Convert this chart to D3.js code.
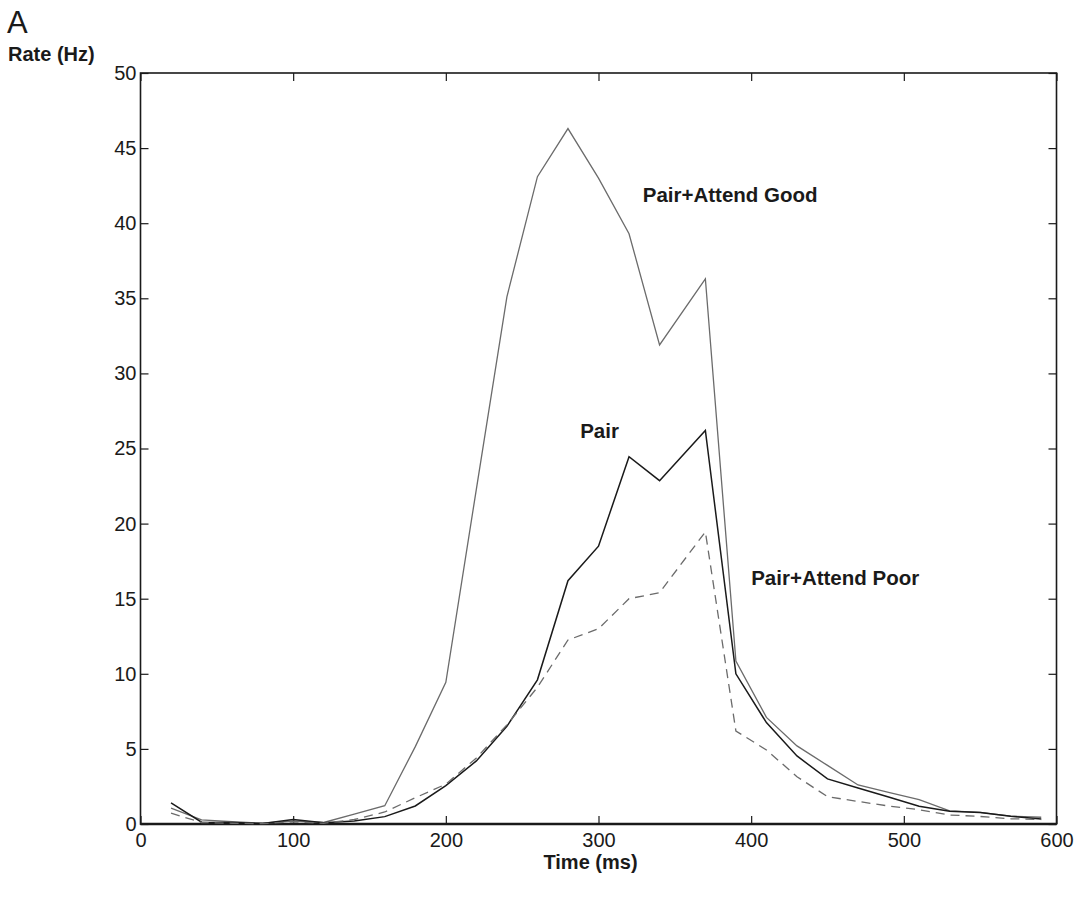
<!DOCTYPE html>
<html>
<head>
<meta charset="utf-8">
<script src="https://cdn.jsdelivr.net/npm/d3@7/dist/d3.min.js"></script>
<style>
  html, body { margin: 0; padding: 0; background: #fff; }
  svg { display: block; font-family: "Liberation Sans", Arial, Helvetica, sans-serif; }
</style>
</head>
<body>
<svg id="chart" width="1083" height="906"></svg>
<script>
// Time bins (ms)
const times = [20, 40, 60, 80, 100, 120, 140, 160, 180, 200, 220, 240, 260, 280, 300,
               320, 340, 370, 390, 410, 430, 450, 470, 490, 510, 530, 550, 570, 590];

// Firing rate (Hz) for each condition
const pairAttendGood = [1.05, 0.27, 0.15, 0.05, 0.2, 0.1, 0.65, 1.22, 5.15, 9.43, 22.3, 35.1, 43.1, 46.3, 43.0,
                        39.3, 31.9, 36.3, 10.85, 7.1, 5.2, 3.9, 2.6, 2.1, 1.62, 0.88, 0.78, 0.52, 0.45];
const pair           = [1.4, 0.12, 0.1, 0.04, 0.3, 0.08, 0.2, 0.49, 1.2, 2.55, 4.2, 6.5, 9.6, 16.2, 18.5,
                        24.45, 22.86, 26.2, 10.0, 6.75, 4.53, 3.0, 2.4, 1.8, 1.18, 0.85, 0.76, 0.52, 0.33];
const pairAttendPoor = [0.72, 0.1, 0.05, 0.02, 0.15, 0.05, 0.3, 0.8, 1.75, 2.65, 4.4, 6.6, 9.1, 12.25, 13.0,
                        15.0, 15.4, 19.45, 6.19, 4.93, 3.15, 1.82, 1.5, 1.2, 0.95, 0.6, 0.5, 0.35, 0.3];

const xTicks = [0, 100, 200, 300, 400, 500, 600];
const yTicks = [0, 5, 10, 15, 20, 25, 30, 35, 40, 45, 50];

const series = [
  { name: "Pair+Attend Good", values: pairAttendGood, color: "#6b6b6b", width: 1.3, dash: null },
  { name: "Pair",             values: pair,           color: "#1a1a1a", width: 1.5, dash: null },
  { name: "Pair+Attend Poor", values: pairAttendPoor, color: "#6b6b6b", width: 1.3, dash: "9,6" }
];

// Line labels placed in data coordinates
const labels = [
  { text: "Pair+Attend Good", t: 329, r: 41.4 },
  { text: "Pair",             t: 288, r: 25.7 },
  { text: "Pair+Attend Poor", t: 400, r: 15.9 }
];

const svg = d3.select("#chart");
const margin = { left: 140.5, right: 1056.5, top: 73, bottom: 824 };

const x = d3.scaleLinear().domain([0, 600]).range([margin.left, margin.right]);
const y = d3.scaleLinear().domain([0, 50]).range([margin.bottom, margin.top]);

const tickLen = 8;
const tickFont = "20px";

// Bottom axis with inward ticks
const gx = svg.append("g").attr("transform", `translate(0,${margin.bottom})`)
  .call(d3.axisBottom(x).tickValues(xTicks).tickSizeInner(-tickLen).tickSizeOuter(0).tickPadding(9));
// Top axis (ticks only)
const gxt = svg.append("g").attr("transform", `translate(0,${margin.top})`)
  .call(d3.axisTop(x).tickValues(xTicks).tickSizeInner(-tickLen).tickSizeOuter(0).tickFormat(""));
// Left axis
const gy = svg.append("g").attr("transform", `translate(${margin.left},0)`)
  .call(d3.axisLeft(y).tickValues(yTicks).tickSizeInner(-tickLen).tickSizeOuter(0).tickPadding(4));
// Right axis (ticks only)
const gyr = svg.append("g").attr("transform", `translate(${margin.right},0)`)
  .call(d3.axisRight(y).tickValues(yTicks).tickSizeInner(-tickLen).tickSizeOuter(0).tickFormat(""));

[gx, gxt, gy, gyr].forEach(g => {
  g.select(".domain").remove();
  g.selectAll(".tick line").attr("stroke", "#1a1a1a").attr("stroke-width", 1.2);
  g.selectAll(".tick text").attr("fill", "#1a1a1a").style("font-size", tickFont)
    .style("font-family", '"Liberation Sans", Arial, sans-serif');
});

// Frame
svg.append("rect")
  .attr("x", margin.left).attr("y", margin.top)
  .attr("width", margin.right - margin.left).attr("height", margin.bottom - margin.top)
  .attr("fill", "none").attr("stroke", "#1a1a1a").attr("stroke-width", 1.6);
// Heavier x-axis baseline
svg.append("line")
  .attr("x1", margin.left).attr("x2", margin.right)
  .attr("y1", margin.bottom).attr("y2", margin.bottom)
  .attr("stroke", "#1a1a1a").attr("stroke-width", 2.4);

// Data lines
const line = d3.line().x(d => x(d[0])).y(d => y(d[1]));
series.forEach(s => {
  svg.append("path")
    .datum(times.map((t, i) => [t, s.values[i]]))
    .attr("d", line)
    .attr("fill", "none")
    .attr("stroke", s.color)
    .attr("stroke-width", s.width)
    .attr("stroke-dasharray", s.dash)
    .attr("stroke-linejoin", "miter");
});

// Line labels
labels.forEach(l => {
  svg.append("text")
    .attr("x", x(l.t)).attr("y", y(l.r))
    .attr("fill", "#1a1a1a")
    .style("font-size", "20.5px").style("font-weight", "bold")
    .text(l.text);
});

// Axis titles and panel letter
svg.append("text").attr("x", 8).attr("y", 61)
  .attr("fill", "#1a1a1a").style("font-size", "20px").style("font-weight", "bold")
  .text("Rate (Hz)");
svg.append("text").attr("x", (margin.left + margin.right) / 2 - 8).attr("y", 869)
  .attr("text-anchor", "middle")
  .attr("fill", "#1a1a1a").style("font-size", "20px").style("font-weight", "bold")
  .text("Time (ms)");
svg.append("text").attr("x", 7).attr("y", 33)
  .attr("fill", "#1a1a1a").style("font-size", "31px")
  .text("A");
</script>
</body>
</html>
